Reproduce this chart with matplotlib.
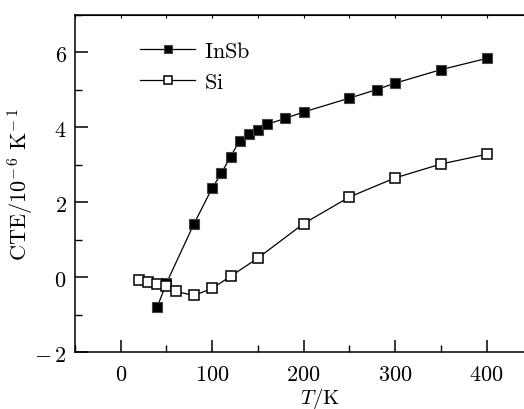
import matplotlib
matplotlib.use('Agg')
import matplotlib.pyplot as plt
from matplotlib.ticker import MultipleLocator, FuncFormatter

# InSb data
insb_t = [40, 50, 80, 100, 110, 120, 130, 140, 150, 160, 180, 200, 250, 280, 300, 350, 400]
insb_cte = [-0.79, -0.16, 1.42, 2.38, 2.77, 3.22, 3.64, 3.81, 3.93, 4.08, 4.24, 4.41, 4.78, 5.01, 5.18, 5.54, 5.84]

# Si data
si_t = [20, 30, 40, 50, 60, 80, 100, 120, 150, 200, 250, 300, 350, 400]
si_cte = [-0.09, -0.13, -0.18, -0.25, -0.38, -0.49, -0.30, 0.02, 0.51, 1.43, 2.14, 2.65, 3.02, 3.28]

plt.rcParams['mathtext.fontset'] = 'cm'
plt.rcParams['font.family'] = 'serif'

fig = plt.figure(figsize=(5.24, 4.10), dpi=100)
ax = fig.add_axes([0.1431, 0.139, 0.873, 0.822])

ax.plot(insb_t, insb_cte, color='black', lw=0.9, marker='s', markersize=7,
        markerfacecolor='black', markeredgecolor='#444444', markeredgewidth=0.8,
        label=r'$\mathrm{InSb}$')
ax.plot(si_t, si_cte, color='black', lw=0.9, marker='s', markersize=7,
        markerfacecolor='white', markeredgecolor='black', markeredgewidth=1.1,
        label=r'$\mathrm{Si}$')

ax.set_xlim(-50, 450)
ax.set_ylim(-2, 7)

ax.xaxis.set_major_locator(MultipleLocator(100))
ax.xaxis.set_minor_locator(MultipleLocator(50))
ax.yaxis.set_major_locator(MultipleLocator(2))
ax.yaxis.set_minor_locator(MultipleLocator(1))
fmt = FuncFormatter(lambda v, p: r'$%s$' % ('-\\,%d' % abs(v) if v < 0 else '%d' % v))
ax.xaxis.set_major_formatter(fmt)
ax.yaxis.set_major_formatter(fmt)

ax.tick_params(which='major', direction='in', length=9, width=1.1, labelsize=16)
ax.tick_params(axis='x', which='major', pad=8)
ax.tick_params(axis='y', which='major', pad=6)
ax.tick_params(which='minor', direction='in', length=5, width=1.0)
ax.spines['right'].set_visible(False)
for s in ['left', 'bottom', 'top']:
    ax.spines[s].set_linewidth(1.1)

top = ax.secondary_xaxis('top')
top.xaxis.set_major_locator(MultipleLocator(100))
top.xaxis.set_minor_locator(MultipleLocator(50))
top.tick_params(which='both', direction='in', length=2.5, width=0.8, labeltop=False)

ax.set_xlabel(r'$T/\mathrm{K}$', fontsize=15)
ax.xaxis.set_label_coords(0.535, -0.098)
ax.set_ylabel(r'$\mathrm{CTE/10^{-\,6}\ K^{-\,1}}$', fontsize=16)
ax.yaxis.set_label_coords(-0.085, 0.5)

ax.legend(loc='upper left', bbox_to_anchor=(0.142, 0.925), frameon=False,
          fontsize=16, handlelength=2.5, handletextpad=0.4, labelspacing=0.4,
          borderpad=0, borderaxespad=0, numpoints=1, markerscale=0.75)

fig.savefig('out.png', dpi=100)
